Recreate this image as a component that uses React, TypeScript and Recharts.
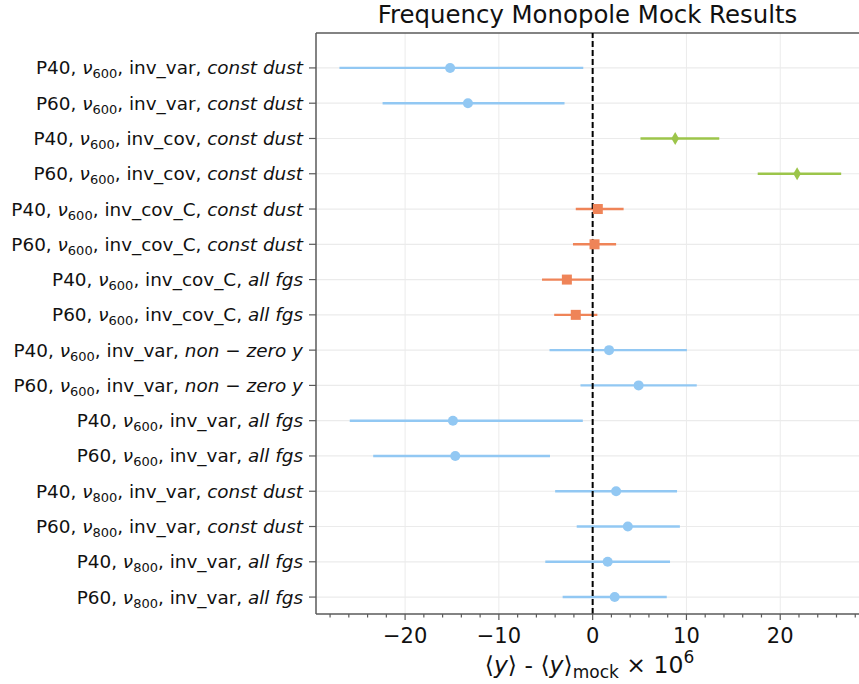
import {
  ErrorBar,
  ReferenceLine,
  Scatter,
  ScatterChart,
  XAxis,
  YAxis,
} from "recharts";

// one row per mock run, top to bottom
const PATCHES = ["P40", "P60", "P40", "P60", "P40", "P60", "P40", "P60", "P40", "P60", "P40", "P60", "P40", "P60", "P40", "P60"];
const FREQS = ["600", "600", "600", "600", "600", "600", "600", "600", "600", "600", "600", "600", "800", "800", "800", "800"];
const METHODS = [
  "inv_var", "inv_var", "inv_cov", "inv_cov", "inv_cov_C", "inv_cov_C", "inv_cov_C", "inv_cov_C",
  "inv_var", "inv_var", "inv_var", "inv_var", "inv_var", "inv_var", "inv_var", "inv_var",
];
const SCENARIOS = [
  "const dust", "const dust", "const dust", "const dust", "const dust", "const dust", "all fgs", "all fgs",
  "non \u2212 zero y", "non \u2212 zero y", "all fgs", "all fgs", "const dust", "const dust", "all fgs", "all fgs",
];

const CENTERS = [-15.2, -13.3, 8.8, 21.8, 0.55, 0.2, -2.75, -1.8, 1.75, 4.9, -14.9, -14.65, 2.5, 3.75, 1.6, 2.35];
const LOWER = [-27.0, -22.4, 5.1, 17.6, -1.8, -2.1, -5.4, -4.1, -4.6, -1.3, -25.9, -23.4, -4.0, -1.7, -5.05, -3.2];
const UPPER = [-1.0, -3.0, 13.5, 26.5, 3.3, 2.5, -0.1, 0.5, 10.05, 11.1, -1.05, -4.55, 9.0, 9.3, 8.25, 7.9];

const X_TICKS = [-28, -26, -24, -22, -20, -18, -16, -14, -12, -10, -8, -6, -4, -2, 0, 2, 4, 6, 8, 10, 12, 14, 16, 18, 20, 22, 24, 26, 28];
const X_MAJOR = [-20, -10, 0, 10, 20];
const X_DOMAIN: [number, number] = [-29.5, 28.4];
const Y_DOMAIN: [number, number] = [-0.99, 15.48];
const ROWS = PATCHES.map((_, i) => i);

const COLORS: Record<string, string> = {
  inv_var: "#92c8f3",
  inv_cov: "#9cc54a",
  inv_cov_C: "#ef8458",
};

const FONT = "'DejaVu Sans', sans-serif";
const INK = "#111";
const FRAME = "#5a5a5a";
const GRID = "#ebebeb";

type Point = { x: number; y: number; err: [number, number] };

function rowsFor(method: string): Point[] {
  return ROWS.filter((i) => METHODS[i] === method).map((i) => ({
    x: CENTERS[i],
    y: i,
    err: [CENTERS[i] - LOWER[i], UPPER[i] - CENTERS[i]],
  }));
}

function RowTick(props: any) {
  const { x, y, payload } = props;
  const i = payload.value as number;
  return (
    <text
      x={x}
      y={y}
      dy={6.5}
      textAnchor="end"
      fontSize={18.4}
      fontFamily={FONT}
      fill={INK}
      style={{ whiteSpace: "pre" }}
    >
      <tspan>{PATCHES[i]}, </tspan>
      <tspan fontStyle="italic">ν</tspan>
      <tspan fontSize={13} dy={4}>{FREQS[i]}</tspan>
      <tspan dy={-4}>, {METHODS[i]}, </tspan>
      <tspan fontStyle="italic">{SCENARIOS[i]}</tspan>
    </text>
  );
}

function ValueTick(props: any) {
  const { x, y, payload } = props;
  const v = payload.value as number;
  const major = X_MAJOR.includes(v);
  return (
    <g>
      <line x1={x} x2={x} y1={y} y2={y + (major ? 6 : 3.5)} stroke={FRAME} strokeWidth={1.2} />
      {major && (
        <text x={x} y={y + 29} textAnchor="middle" fontSize={21} fontFamily={FONT} fill={INK}>
          {v < 0 ? `\u2212${Math.abs(v)}` : `${v}`}
        </text>
      )}
    </g>
  );
}

function XTitle(props: any) {
  const { viewBox } = props;
  const cx = viewBox.x + viewBox.width / 2 + 2;
  return (
    <text x={cx} y={viewBox.y + 59} textAnchor="middle" fontSize={23.5} fontFamily={FONT} fill={INK} style={{ whiteSpace: "pre" }}>
      <tspan>⟨</tspan>
      <tspan fontStyle="italic">y</tspan>
      <tspan>⟩ - ⟨</tspan>
      <tspan fontStyle="italic">y</tspan>
      <tspan>⟩</tspan>
      <tspan fontSize={17} dy={5}>mock</tspan>
      <tspan dy={-5}> × 10</tspan>
      <tspan fontSize={17} dy={-10}>6</tspan>
    </text>
  );
}

const circleShape = (p: any) => <circle cx={p.cx} cy={p.cy} r={5} fill={COLORS.inv_var} />;
const squareShape = (p: any) => <rect x={p.cx - 5} y={p.cy - 5} width={10} height={10} fill={COLORS.inv_cov_C} />;
const diamondShape = (p: any) => (
  <polygon
    points={`${p.cx},${p.cy - 6.5} ${p.cx + 3.8},${p.cy} ${p.cx},${p.cy + 6.5} ${p.cx - 3.8},${p.cy}`}
    fill={COLORS.inv_cov}
  />
);

export default function App() {
  return (
    <div style={{ position: "absolute", left: 0, top: 0, width: 859, height: 684, background: "#fff" }}>
      <div
        style={{
          position: "absolute",
          left: 316,
          width: 543,
          top: 1,
          textAlign: "center",
          fontFamily: FONT,
          fontSize: 24.4,
          color: INK,
          lineHeight: "28px",
        }}
      >
        Frequency Monopole Mock Results
      </div>
      <ScatterChart width={859} height={684} margin={{ top: 33, right: 0, bottom: 0, left: 0 }}>
        <XAxis
          type="number"
          dataKey="x"
          domain={X_DOMAIN}
          allowDataOverflow
          ticks={X_TICKS}
          interval={0}
          height={70}
          tickSize={0}
          tickMargin={0}
          tickLine={false}
          tick={<ValueTick />}
          axisLine={{ stroke: FRAME, strokeWidth: 1.5 }}
          label={{ content: <XTitle /> }}
        />
        <YAxis
          type="number"
          dataKey="y"
          domain={Y_DOMAIN}
          reversed
          allowDataOverflow
          ticks={ROWS}
          interval={0}
          width={316}
          tickSize={7}
          tickMargin={6}
          tickLine={{ stroke: FRAME, strokeWidth: 1.2 }}
          tick={<RowTick />}
          axisLine={{ stroke: FRAME, strokeWidth: 1.5 }}
        />
        {X_MAJOR.map((v) => (
          <ReferenceLine key={`gx${v}`} x={v} stroke={GRID} strokeWidth={1} />
        ))}
        {ROWS.map((r) => (
          <ReferenceLine key={`gy${r}`} y={r} stroke={GRID} strokeWidth={1.2} />
        ))}
        <ReferenceLine y={Y_DOMAIN[0]} stroke={FRAME} strokeWidth={1.5} />
        <Scatter data={rowsFor("inv_var")} shape={circleShape} isAnimationActive={false}>
          <ErrorBar dataKey="err" direction="x" width={0} stroke={COLORS.inv_var} strokeWidth={2.4} />
        </Scatter>
        <Scatter data={rowsFor("inv_cov")} shape={diamondShape} isAnimationActive={false}>
          <ErrorBar dataKey="err" direction="x" width={0} stroke={COLORS.inv_cov} strokeWidth={2.6} />
        </Scatter>
        <Scatter data={rowsFor("inv_cov_C")} shape={squareShape} isAnimationActive={false}>
          <ErrorBar dataKey="err" direction="x" width={0} stroke={COLORS.inv_cov_C} strokeWidth={2.4} />
        </Scatter>
        <ReferenceLine x={0} stroke="#000" strokeWidth={2} strokeDasharray="6 3" />
      </ScatterChart>
    </div>
  );
}
